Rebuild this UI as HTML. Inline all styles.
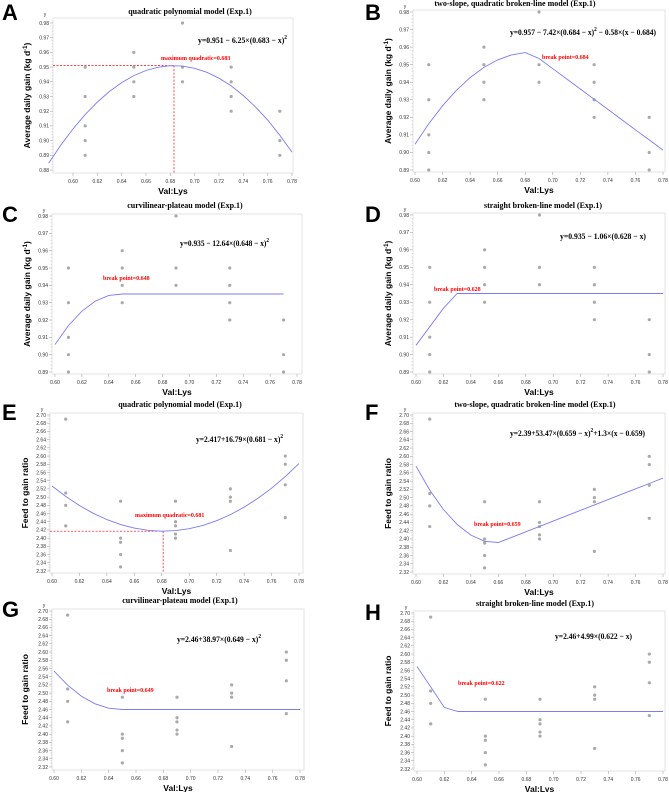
<!DOCTYPE html>
<html><head><meta charset="utf-8"><style>
body{margin:0;background:#fff;}
svg{display:block;}
.tk{font-family:"Liberation Sans",sans-serif;font-size:5px;fill:#333;}
.ttl{font-family:"Liberation Serif",serif;font-weight:bold;font-size:8px;fill:#000;}
.eq{font-family:"Liberation Serif",serif;font-weight:bold;font-size:8.5px;fill:#000;}
.red{font-family:"Liberation Serif",serif;font-weight:bold;font-size:6px;fill:#f00;}
.ax{font-family:"Liberation Sans",sans-serif;font-weight:bold;font-size:8.5px;fill:#000;}
.lt{font-family:"Liberation Sans",sans-serif;font-weight:bold;font-size:22px;fill:#000;}
</style></head><body>
<svg id="fig" width="669" height="792" viewBox="0 0 669 792" xmlns="http://www.w3.org/2000/svg"></svg>
<script>
// Observed data: average daily gain
const adgX = [0.61,0.61,0.61,0.61,0.61,0.65,0.65,0.65,0.65,0.69,0.69,0.69,0.73,0.73,0.73,0.73,0.77,0.77,0.77];
const adgY = [0.95,0.93,0.91,0.90,0.89,0.96,0.95,0.94,0.93,0.98,0.95,0.94,0.95,0.94,0.93,0.92,0.92,0.90,0.89];
// Observed data: feed to gain ratio
const fgX = [0.61,0.61,0.61,0.61,0.65,0.65,0.65,0.65,0.65,0.69,0.69,0.69,0.69,0.69,0.73,0.73,0.73,0.73,0.77,0.77,0.77,0.77];
const fgY = [2.69,2.51,2.48,2.43,2.49,2.40,2.39,2.36,2.33,2.49,2.44,2.43,2.41,2.40,2.52,2.50,2.49,2.37,2.60,2.58,2.53,2.45];
// Model parameters [plateau/intercept, coef, breakpoint, slope2]
const modelA = [0.951, 6.25, 0.683];
const modelB = [0.957, 7.42, 0.684, 0.58];
const modelC = [0.935, 12.64, 0.648];
const modelD = [0.935, 1.06, 0.628];
const modelE = [2.417, 16.79, 0.681];
const modelF = [2.39, 53.47, 0.659, 1.3];
const modelG = [2.46, 38.97, 0.649];
const modelH = [2.46, 4.99, 0.622];
const adgTicks = [0.88,0.89,0.90,0.91,0.92,0.93,0.94,0.95,0.96,0.97,0.98];
const fgTicks = [2.32,2.34,2.36,2.38,2.40,2.42,2.44,2.46,2.48,2.50,2.52,2.54,2.56,2.58,2.60,2.62,2.64,2.66,2.68,2.70];
const xTicks = [0.58,0.60,0.62,0.64,0.66,0.68,0.70,0.72,0.74,0.76,0.78];

const NS="http://www.w3.org/2000/svg";
const svg=document.getElementById('fig');
function mk(tag,attrs,parent,text){const e=document.createElementNS(NS,tag);for(const k in attrs)e.setAttribute(k,attrs[k]);if(text!==undefined)e.textContent=text;(parent||svg).appendChild(e);return e;}

const fns={
 quad:(p,x)=>p[0]-p[1]*(p[2]-x)**2,
 twoslope:(p,x)=>x<p[2]?p[0]-p[1]*(p[2]-x)**2:p[0]-p[3]*(x-p[2]),
 cplat:(p,x)=>x<p[2]?p[0]-p[1]*(p[2]-x)**2:p[0],
 sbl:(p,x)=>x<p[2]?p[0]-p[1]*(p[2]-x):p[0],
 quadU:(p,x)=>p[0]+p[1]*(p[2]-x)**2,
 twoslopeU:(p,x)=>x<p[2]?p[0]+p[1]*(p[2]-x)**2:p[0]+p[3]*(x-p[2]),
 cplatU:(p,x)=>x<p[2]?p[0]+p[1]*(p[2]-x)**2:p[0],
 sblU:(p,x)=>x<p[2]?p[0]+p[1]*(p[2]-x):p[0]
};
const panels=[
 {id:'a',L:'A',f:[53,18,293,173],xa:[0.60,73,0.78,292],ya:[0.98,23,0.88,170],yt:adgTicks,kind:'adg',m:modelA,fn:'quad',xr:[0.58,0.78],
  title:'quadratic polynomial model  (Exp.1)',tx:190,ty:14,eq:['y=0.951 − 6.25×(0.683 − x)',''],eqx:198,eqy:43,eqw:89,red:'maximum quadratic=0.683',rx:161,ry:60,ref:true,lx:2,ly:20,ylx:30},
 {id:'b',L:'B',f:[413,10,665,172],xa:[0.60,415,0.78,663],ya:[0.98,12,0.89,170],yt:adgTicks.slice(1),kind:'adg',m:modelB,fn:'twoslope',xr:[0.60,0.78],
  title:'two-slope, quadratic broken-line model  (Exp.1)',tx:515,ty:6,eq:['y=0.957 − 7.42×(0.684 − x)',' − 0.58×(x − 0.684)'],eqx:510,eqy:35,eqw:146,red:'break point=0.684',rx:542,ry:59,lx:365,ly:20,ylx:391},
 {id:'c',L:'C',f:[52,214,302,374],xa:[0.60,55,0.78,297],ya:[0.98,216,0.89,372],yt:adgTicks.slice(1),kind:'adg',m:modelC,fn:'cplat',xr:[0.60,0.77],
  title:'curvilinear-plateau model  (Exp.1)',tx:185,ty:208,eq:['y=0.935 − 12.64×(0.648 − x)',''],eqx:180,eqy:246,eqw:89,red:'break point=0.648',rx:103,ry:280,lx:2,ly:222,ylx:30},
 {id:'d',L:'D',f:[413,213,665,374],xa:[0.60,416,0.78,663],ya:[0.98,215,0.89,372],yt:adgTicks.slice(1),kind:'adg',m:modelD,fn:'sbl',xr:[0.60,0.78],
  title:'straight broken-line model  (Exp.1)',tx:543,ty:208,eq:['y=0.935 − 1.06×(0.628 − x)'],eqx:560,eqy:239,eqw:86,red:'break point=0.628',rx:434,ry:291,lx:365,ly:222,ylx:391},
 {id:'e',L:'E',f:[50,413,303,573],xa:[0.60,52,0.78,299],ya:[2.70,415,2.32,571],yt:fgTicks,kind:'fg',m:modelE,fn:'quadU',xr:[0.60,0.78],
  title:'quadratic polynomial model  (Exp.1)',tx:180,ty:407,eq:['y=2.417+16.79×(0.681 − x)',''],eqx:196,eqy:442,eqw:87,red:'maximum quadratic=0.681',rx:135,ry:517,ref:true,lx:2,ly:420,ylx:28},
 {id:'f',L:'F',f:[413,413,665,574],xa:[0.60,416,0.78,663],ya:[2.70,415,2.32,572],yt:fgTicks,kind:'fg',m:modelF,fn:'twoslopeU',xr:[0.60,0.78],
  title:'two-slope, quadratic broken-line model  (Exp.1)',tx:535,ty:407,eq:['y=2.39+53.47×(0.659 − x)','+1.3×(x − 0.659)'],eqx:510,eqy:436,eqw:135,red:'break point=0.659',rx:474,ry:526,lx:365,ly:420,ylx:391},
 {id:'g',L:'G',f:[52,609,304,770],xa:[0.60,54,0.78,300],ya:[2.70,611,2.32,767],yt:fgTicks,kind:'fg',m:modelG,fn:'cplatU',xr:[0.60,0.78],
  title:'curvilinear-plateau model  (Exp.1)',tx:180,ty:603,eq:['y=2.46+38.97×(0.649 − x)',''],eqx:177,eqy:642,eqw:84,red:'break point=0.649',rx:107,ry:692,lx:2,ly:617,ylx:28},
 {id:'h',L:'H',f:[414,611,665,771],xa:[0.60,417,0.78,663],ya:[2.70,613,2.32,769],yt:fgTicks,kind:'fg',m:modelH,fn:'sblU',xr:[0.60,0.78],
  title:'straight broken-line model  (Exp.1)',tx:535,ty:606,eq:['y=2.46+4.99×(0.622 − x)'],eqx:555,eqy:639,eqw:77,red:'break point=0.622',rx:458,ry:685,lx:365,ly:620,ylx:391}
];

panels.forEach(P=>{
 const g=mk('g',{});
 
 
 const X=v=>P.xa[1]+(v-P.xa[0])*(P.xa[3]-P.xa[1])/(P.xa[2]-P.xa[0]);
 const Y=v=>P.ya[1]+(v-P.ya[0])*(P.ya[3]-P.ya[1])/(P.ya[2]-P.ya[0]);
 const [fx0,fy0,fx1,fy1]=P.f;
 const fr=mk('rect',{x:fx0,y:fy0,width:fx1-fx0,height:fy1-fy0,fill:'none',stroke:'#ddd','stroke-width':0.8},g);
 
 
 P.yt.forEach((v,i)=>{
  const y=Y(v);
  mk('line',{x1:fx0-3,x2:fx0,y1:y,y2:y,stroke:'#999','stroke-width':0.5},g);
  const t=mk('text',{x:fx0-4,y:y+1.8,'text-anchor':'end',class:'tk'},g,v.toFixed(2));
  
  
  if(i<P.yt.length-1){const step=(P.yt[i+1]-v)/5;for(let k=1;k<5;k++){const yy=Y(v+step*k);mk('line',{x1:fx0-1.5,x2:fx0,y1:yy,y2:yy,stroke:'#bbb','stroke-width':0.4},g);}}
 });
 mk('text',{x:fx0-8,y:fy0-2,'text-anchor':'middle',class:'tk'},g,'y');
 xTicks.forEach(v=>{
  const x=X(v); if(x<fx0-1||x>fx1+1)return;
  mk('line',{x1:x,x2:x,y1:fy1,y2:fy1+3,stroke:'#999','stroke-width':0.5},g);
  const t=mk('text',{x:x,y:fy1+10,'text-anchor':'middle',class:'tk'},g,v.toFixed(2));
  
  
 });
 const xs=P.kind==='adg'?adgX:fgX, ys=P.kind==='adg'?adgY:fgY;
 xs.forEach((xv,i)=>{
  const c=mk('circle',{cx:X(xv),cy:Y(ys[i]),r:1.6,fill:'#aaa'},g);
  
  
 });
 if(P.ref){
  const yv=P.m[0], xv=P.m[2];
  const h=mk('line',{x1:fx0,x2:X(xv),y1:Y(yv),y2:Y(yv),stroke:'#f00','stroke-width':0.7,'stroke-dasharray':'2,1.5'},g);
  
  
  const v=mk('line',{x1:X(xv),x2:X(xv),y1:Y(yv),y2:fy1,stroke:'#f00','stroke-width':0.7,'stroke-dasharray':'2,1.5'},g);
  
  
 }
 let pts=[];
 const n=Math.round((P.xr[1]-P.xr[0])/0.01);
 for(let k=0;k<=n;k++){const xv=P.xr[0]+k*0.01;pts.push(X(xv).toFixed(1)+','+Y(fns[P.fn](P.m,xv)).toFixed(1));}
 const cl=mk('polyline',{points:pts.join(' '),fill:'none',stroke:'#7b7bf5','stroke-width':0.9},g);
 
 
 const tt=mk('text',{x:P.tx,y:P.ty,'text-anchor':'middle',class:'ttl'},g,P.title);
 
 
 const eq=mk('text',{x:P.eqx,y:P.eqy,class:'eq',textLength:P.eqw,lengthAdjust:'spacingAndGlyphs'},g);
 
 
 eq.appendChild(document.createTextNode(P.eq[0]));
 if(P.eq.length>1){
  const s=document.createElementNS(NS,'tspan');s.setAttribute('dy','-4');s.setAttribute('style','font-size:6px');s.textContent='2';eq.appendChild(s);
  if(P.eq[1]){const s2=document.createElementNS(NS,'tspan');s2.setAttribute('dy','4');s2.textContent=P.eq[1];eq.appendChild(s2);}
 }
 const rd=mk('text',{x:P.rx,y:P.ry,class:'red'},g,P.red);
 
 
 const lt=mk('text',{x:P.lx,y:P.ly,class:'lt'},g,P.L);
 
 
 const xl=mk('text',{x:(fx0+fx1)/2,y:fy1+21,'text-anchor':'middle',class:'ax'},g,'Val:Lys');
 
 
 const cy=(fy0+fy1)/2;
 const yl=mk('text',{x:P.ylx,y:cy,'text-anchor':'middle',class:'ax',transform:'rotate(-90 '+P.ylx+' '+cy+')'},g);
 
 
 if(P.kind==='adg'){
  yl.appendChild(document.createTextNode('Average daily gain (kg d'));
  const s=document.createElementNS(NS,'tspan');s.setAttribute('dy','-3');s.setAttribute('style','font-size:6px');s.textContent='-1';yl.appendChild(s);
  const s2=document.createElementNS(NS,'tspan');s2.setAttribute('dy','3');s2.textContent=')';yl.appendChild(s2);
 } else yl.textContent='Feed to gain ratio';
});
</script>
</body></html>
